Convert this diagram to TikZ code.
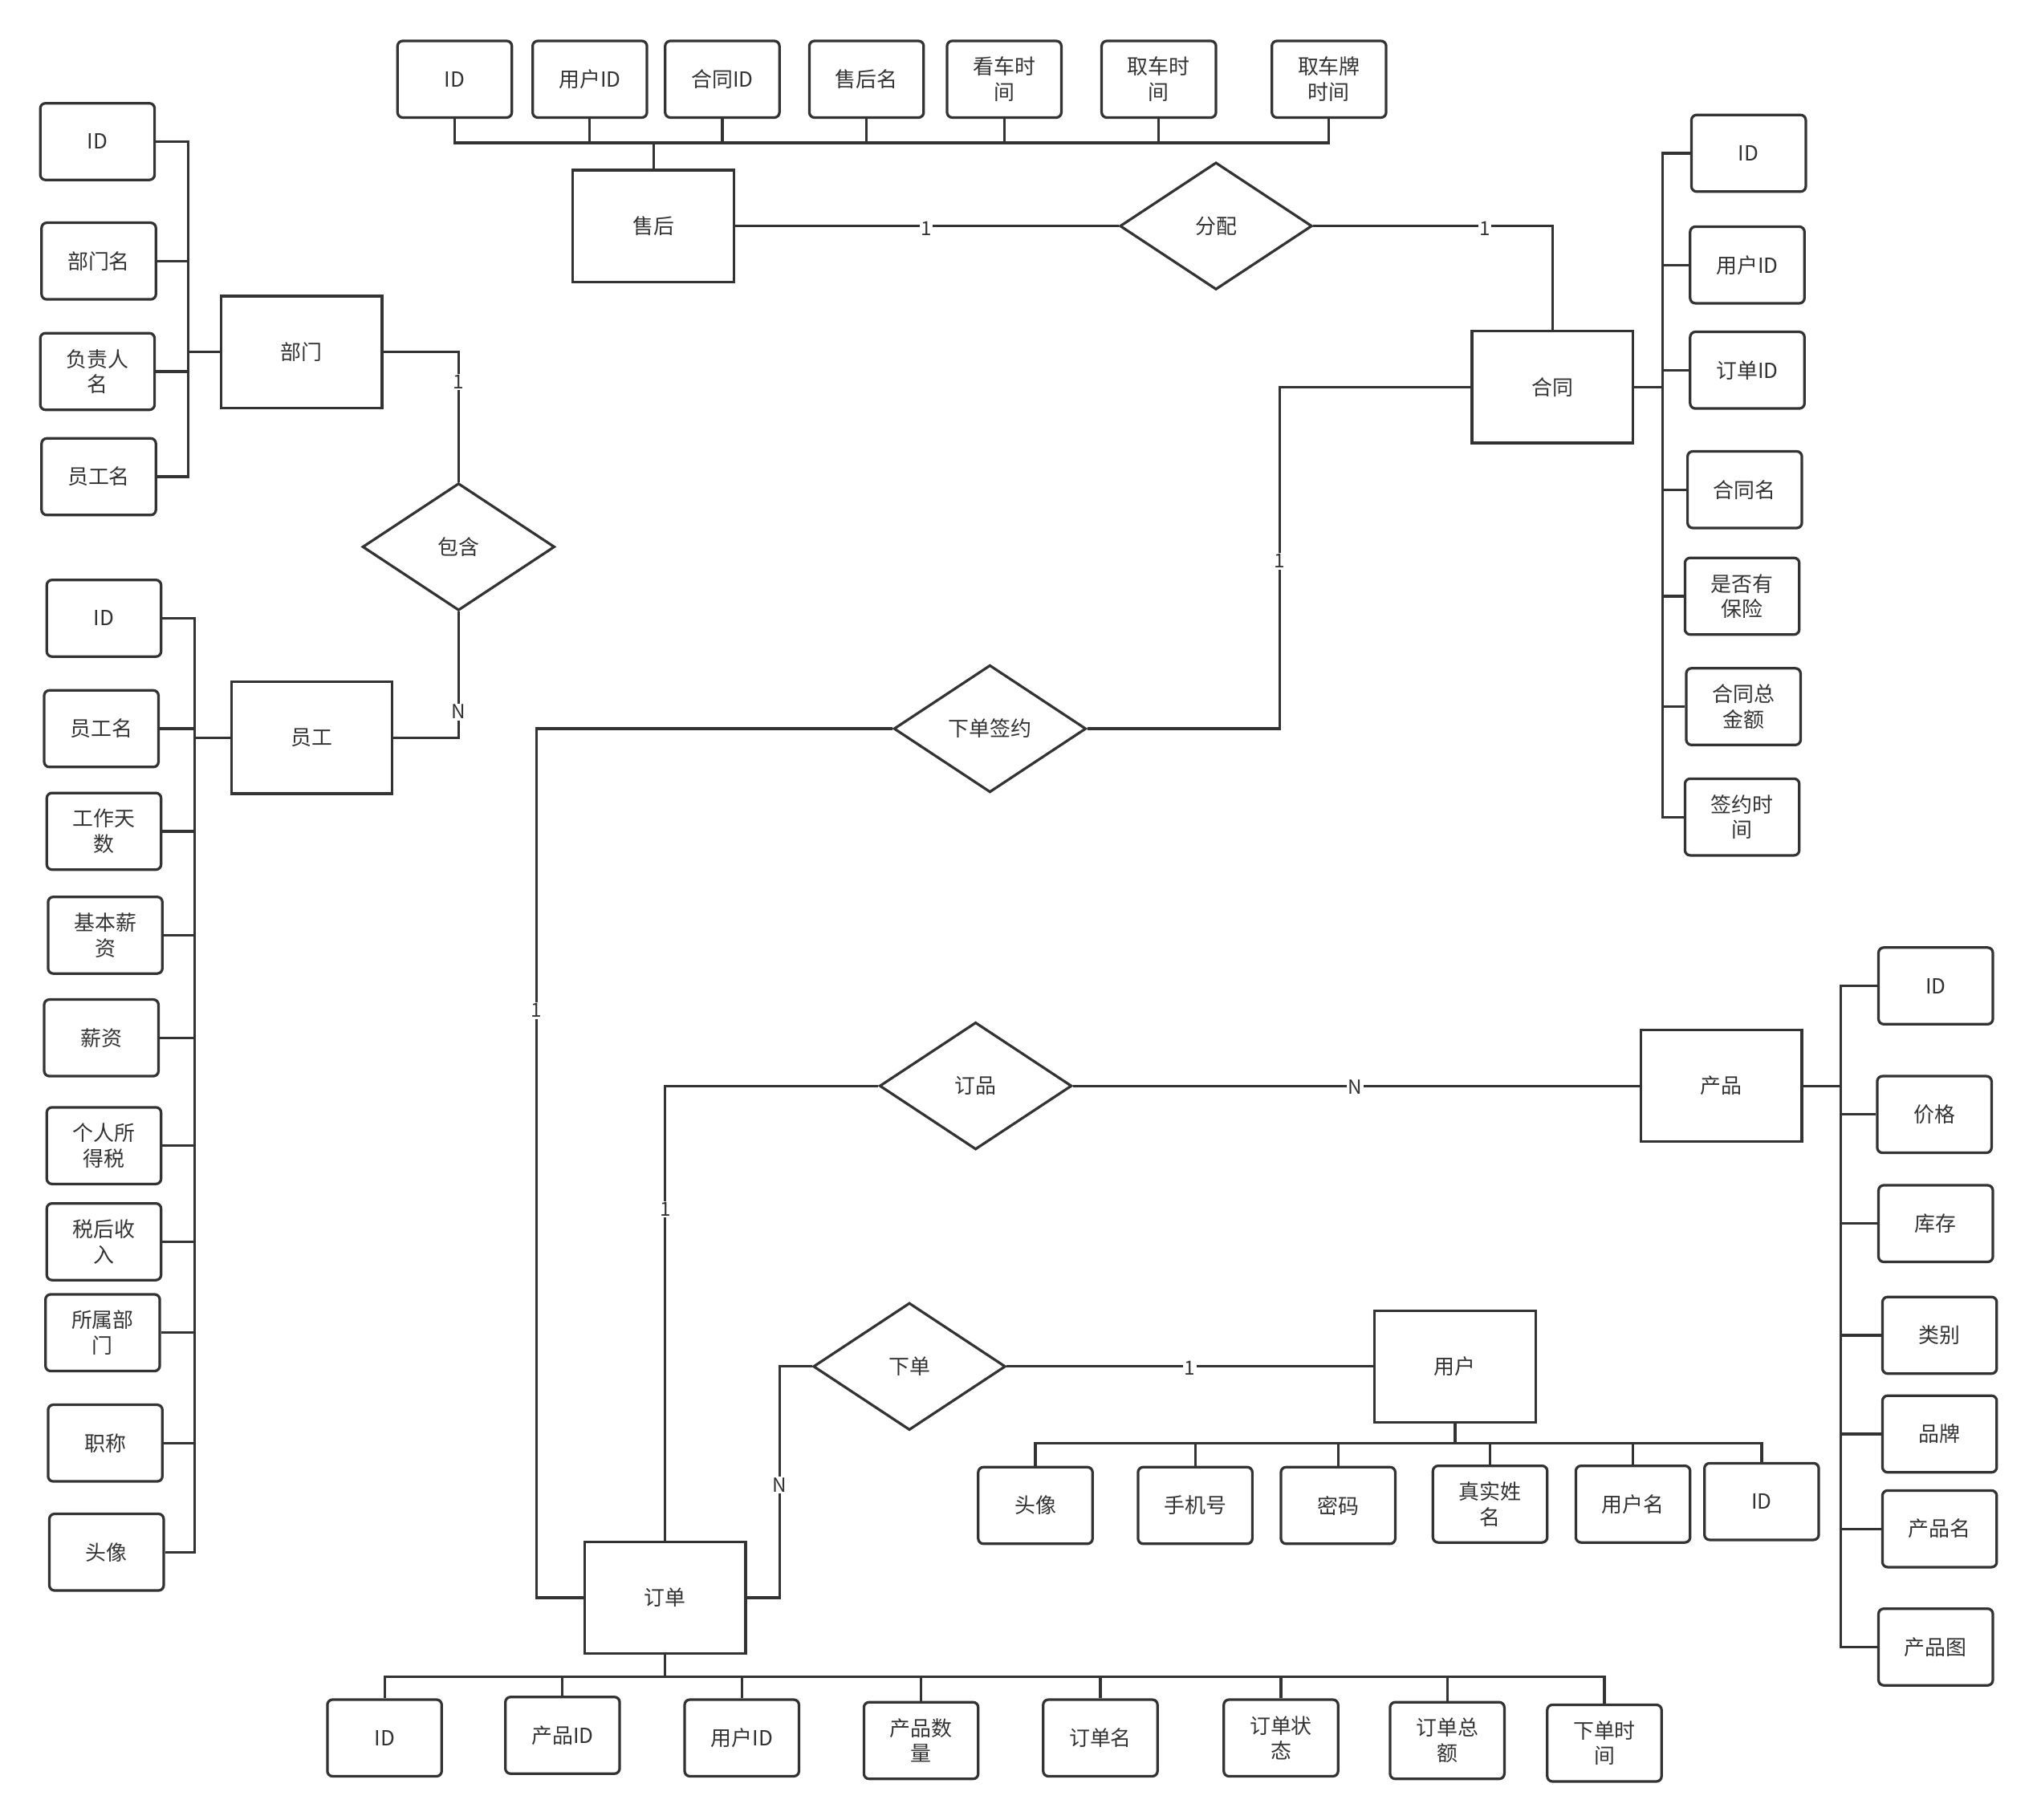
\documentclass[tikz,border=0pt]{standalone}
\usepackage{fontspec}
\setmainfont{Noto Sans CJK SC}
\usetikzlibrary{shapes.geometric}
\definecolor{lc}{HTML}{333333}
\begin{document}
\begin{tikzpicture}[x=1pt,y=-1pt,color=lc,line width=2pt,
  attr/.style={draw=lc,line width=2pt,rounded corners=4pt,minimum width=88pt,minimum height=59pt,align=center,inner sep=0pt,text=lc,font=\fontsize{16}{19.5}\selectfont},
  ent/.style={draw=lc,line width=2pt,minimum width=124pt,minimum height=86pt,inner sep=0pt,text=lc,font=\fontsize{16}{19.5}\selectfont},
  rel/.style={diamond,draw=lc,line width=2pt,minimum width=148pt,minimum height=98pt,inner sep=0pt,text=lc,font=\fontsize{16}{19.5}\selectfont},
  card/.style={fill=white,inner sep=1pt,text=lc,font=\fontsize{15}{17}\selectfont}]
\useasboundingbox (0,0) rectangle (1568,1400.6);

% entities
\node[ent] (sh) at (503,174) {售后};
\node[ent] (bm) at (232,271) {部门};
\node[ent] (yg) at (240,568) {员工};
\node[ent] (ht) at (1195,298) {合同};
\node[ent] (cp) at (1325,836) {产品};
\node[ent] (yh) at (1120,1052) {用户};
\node[ent] (dd) at (512,1230) {订单};

% relations
\node[rel] (fp) at (936,174) {分配};
\node[rel] (bh) at (353,421) {包含};
\node[rel] (xq) at (762,561) {下单签约};
\node[rel] (dp) at (751,836) {订品};
\node[rel] (xd) at (700,1052) {下单};

% 售后 attributes
\node[attr] (s1) at (350,61) {ID};
\node[attr] (s2) at (454,61) {用户ID};
\node[attr] (s3) at (556,61) {合同ID};
\node[attr] (s4) at (667,61) {售后名};
\node[attr] (s5) at (773,61) {看车时\\间};
\node[attr] (s6) at (892,61) {取车时\\间};
\node[attr] (s7) at (1023,61) {取车牌\\时间};
\coordinate (shb) at (503,110);
\foreach \a in {s1,s2,s3,s4,s5,s6,s7} \draw (\a.south) |- (shb);
\draw (shb) -- (sh.north);

% 部门 attributes
\node[attr] (b1) at (75,109) {ID};
\node[attr] (b2) at (76,201) {部门名};
\node[attr] (b3) at (75,286) {负责人\\名};
\node[attr] (b4) at (76,367) {员工名};
\coordinate (bmb) at (145,271);
\foreach \a in {b1,b2,b3,b4} \draw (\a.east) -| (bmb);
\draw (bmb) -- (bm.west);

% 员工 attributes
\node[attr] (e1) at (80,476) {ID};
\node[attr] (e2) at (78,561) {员工名};
\node[attr] (e3) at (80,640) {工作天\\数};
\node[attr] (e4) at (81,720) {基本薪\\资};
\node[attr] (e5) at (78,799) {薪资};
\node[attr] (e6) at (80,882) {个人所\\得税};
\node[attr] (e7) at (80,956) {税后收\\入};
\node[attr] (e8) at (79,1026) {所属部\\门};
\node[attr] (e9) at (81,1111) {职称};
\node[attr] (e10) at (82,1195) {头像};
\coordinate (ygb) at (150,568);
\foreach \a in {e1,e2,e3,e4,e5,e6,e7,e8,e9,e10} \draw (\a.east) -| (ygb);
\draw (ygb) -- (yg.west);

% 合同 attributes
\node[attr] (h1) at (1346,118) {ID};
\node[attr] (h2) at (1345,204) {用户ID};
\node[attr] (h3) at (1345,285) {订单ID};
\node[attr] (h4) at (1343,377) {合同名};
\node[attr] (h5) at (1341,459) {是否有\\保险};
\node[attr] (h6) at (1342,544) {合同总\\金额};
\node[attr] (h7) at (1341,629) {签约时\\间};
\coordinate (htb) at (1280,298);
\foreach \a in {h1,h2,h3,h4,h5,h6,h7} \draw (\a.west) -| (htb);
\draw (ht.east) -- (htb);

% 产品 attributes
\node[attr] (p1) at (1490,759) {ID};
\node[attr] (p2) at (1489,858) {价格};
\node[attr] (p3) at (1490,942) {库存};
\node[attr] (p4) at (1493,1028) {类别};
\node[attr] (p5) at (1493,1104) {品牌};
\node[attr] (p6) at (1493,1177) {产品名};
\node[attr] (p7) at (1490,1268) {产品图};
\coordinate (cpb) at (1417,836);
\foreach \a in {p1,p2,p3,p4,p5,p6,p7} \draw (\a.west) -| (cpb);
\draw (cp.east) -- (cpb);

% 用户 attributes
\node[attr] (u1) at (797,1159) {头像};
\node[attr] (u2) at (920,1159) {手机号};
\node[attr] (u3) at (1030,1159) {密码};
\node[attr] (u4) at (1147,1158) {真实姓\\名};
\node[attr] (u5) at (1257,1158) {用户名};
\node[attr] (u6) at (1356,1156) {ID};
\coordinate (yhb) at (1120,1111);
\foreach \a in {u1,u2,u3,u4,u5,u6} \draw (\a.north) |- (yhb);
\draw (yhb) -- (yh.south);

% 订单 attributes
\node[attr] (o1) at (296,1338) {ID};
\node[attr] (o2) at (433,1336) {产品ID};
\node[attr] (o3) at (571,1338) {用户ID};
\node[attr] (o4) at (709,1340) {产品数\\量};
\node[attr] (o5) at (847,1338) {订单名};
\node[attr] (o6) at (986,1338) {订单状\\态};
\node[attr] (o7) at (1114,1340) {订单总\\额};
\node[attr] (o8) at (1235,1342) {下单时\\间};
\coordinate (ddb) at (512,1291);
\foreach \a in {o1,o2,o3,o4,o5,o6,o7,o8} \draw (\a.north) |- (ddb);
\draw (ddb) -- (dd.south);

% relationship connectors
\draw (sh.east) -- (fp.west);
\draw (fp.east) -| (ht.north);
\draw (bm.east) -| (bh.north);
\draw (bh.south) |- (yg.east);
\coordinate (c1) at (985,0);
\draw (xq.east) -| (c1 |- ht.west) -- (ht.west);
\coordinate (c2) at (413,0);
\draw (xq.west) -| (c2 |- dd.west) -- (dd.west);
\draw (dp.east) -- (cp.west);
\draw (dp.west) -| (dd.north);
\draw (xd.east) -- (yh.west);
\coordinate (c3) at (600,0);
\draw (xd.west) -| (c3 |- dd.east) -- (dd.east);

% cardinalities
\node[card] (k1) at (713,176) {1};
\node[card] (k2) at (1143,176) {1};
\node[card] (k3) at (353,294) {1};
\node[card] (k4) at (353,548) {N};
\node[card] (k5) at (985,432) {1};
\node[card] (k6) at (413,778) {1};
\node[card] (k7) at (1043,837) {N};
\node[card] (k8) at (512,931) {1};
\node[card] (k9) at (916,1053) {1};
\node[card] (k10) at (600,1143) {N};
\end{tikzpicture}
\end{document}
